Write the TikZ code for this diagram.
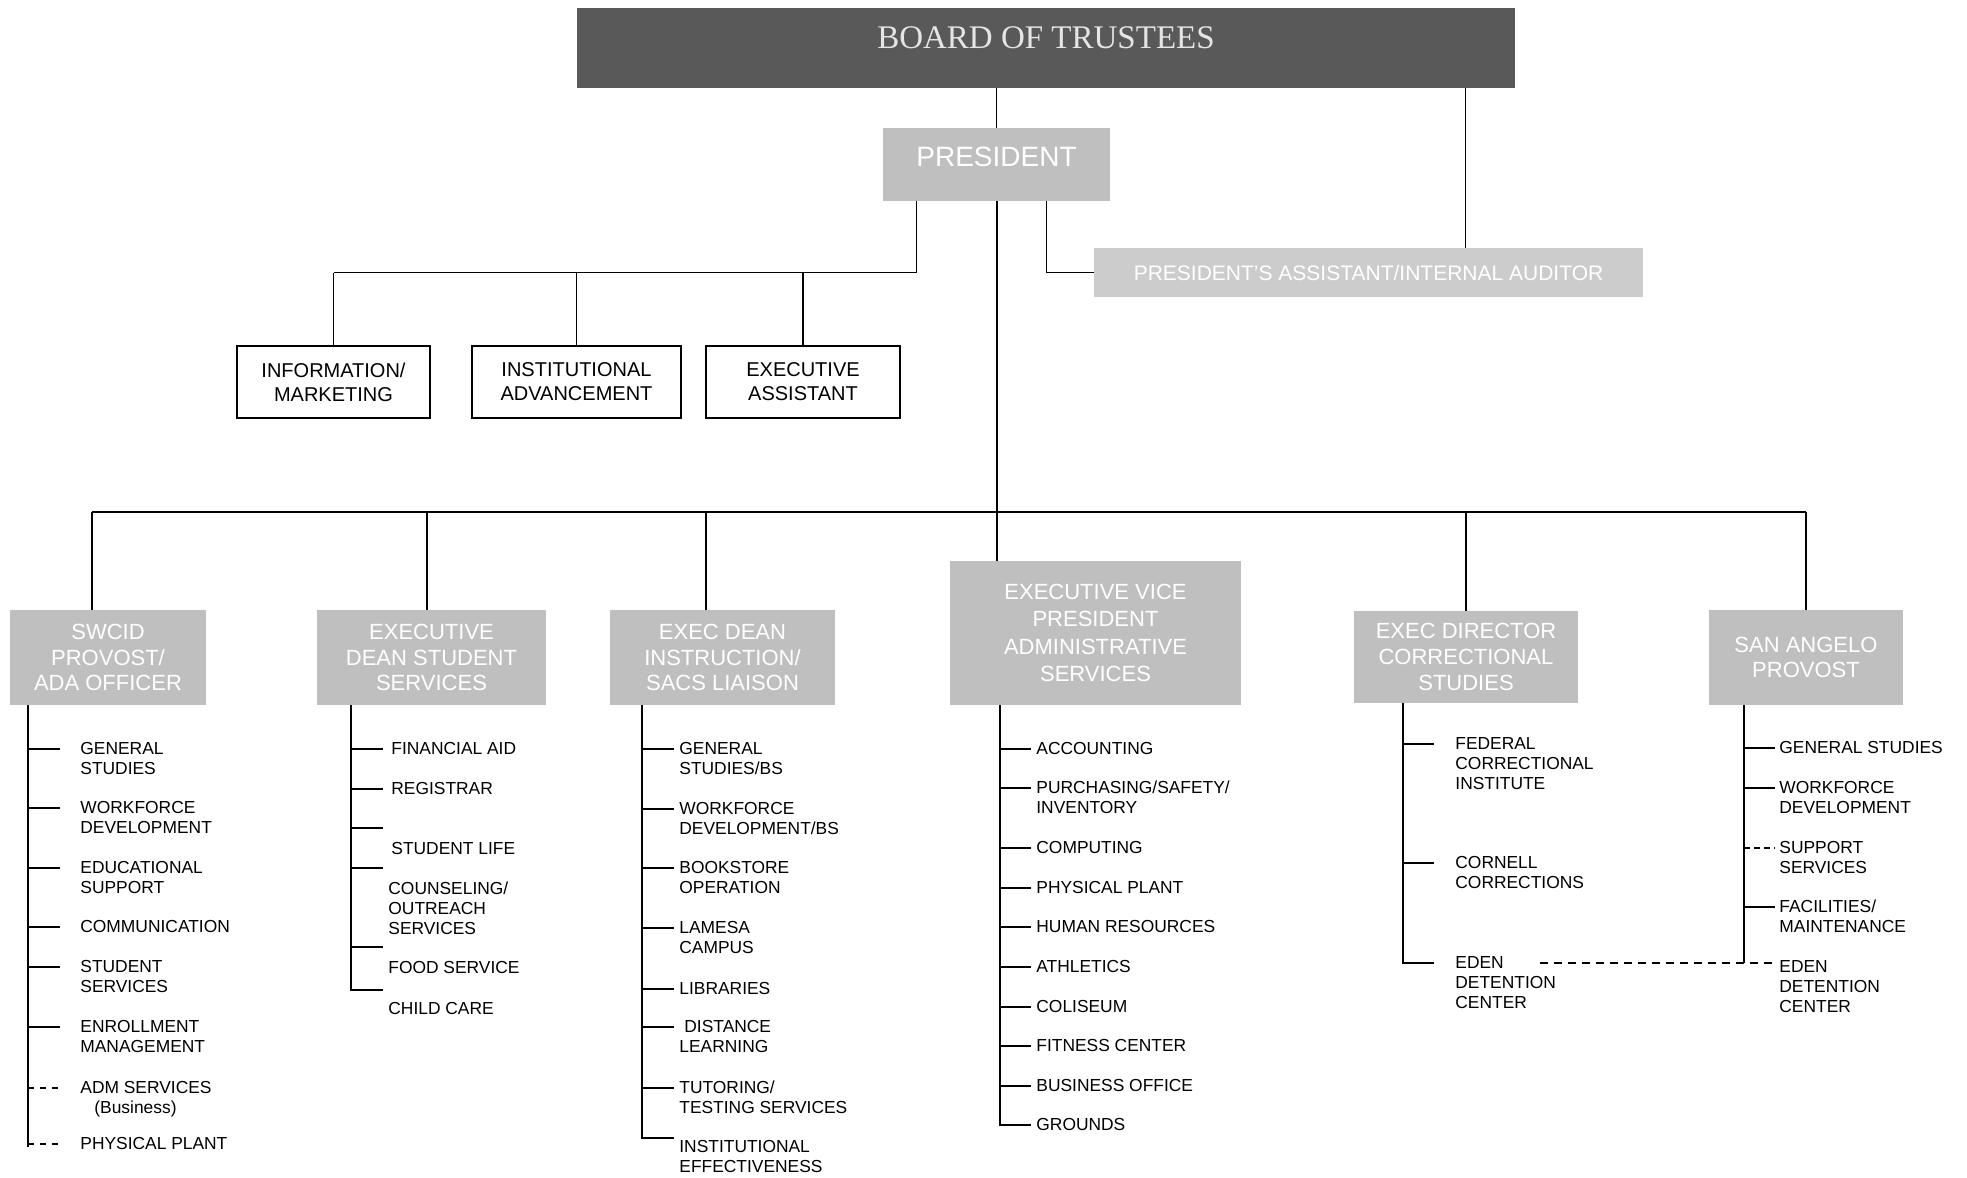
\documentclass[tikz,border=0pt]{standalone}
\usepackage{fontspec}
\setmainfont{Liberation Sans}
\newfontfamily\trusteefont{Liberation Serif}
\newcommand\stack[1]{\begin{tabular}[t]{@{}l@{}}#1\end{tabular}}

\begin{document}
\begin{tikzpicture}[x=0.5pt, y=-0.5pt,
    board/.style={fill=black!65, text=white!90!black, inner sep=0pt,
      font=\trusteefont\fontsize{16.5}{18}\selectfont},
    office/.style={fill=black!25, text=white, align=center, inner sep=0pt,
      font=\fontsize{11}{12.8}\selectfont},
    dept/.style={draw, line width=1pt, align=center, inner sep=0pt,
      font=\fontsize{10}{12}\selectfont},
    entry/.style={anchor=mid west, inner sep=0pt,
      font=\fontsize{8.7}{10}\selectfont},
    link/.style={line width=0.6pt},
    spine/.style={line width=1pt}]
  \useasboundingbox (0,0) rectangle (1967,1178);

  \node[board, minimum width=469pt, minimum height=40pt,
    text height=10pt, text depth=10pt] (B) at (1046,48) {BOARD OF TRUSTEES};
  \node[office, minimum width=113.5pt, minimum height=36.5pt,
    font=\fontsize{14}{16}\selectfont, text height=10pt, text depth=8pt]
    (P) at (996.5,164.5) {PRESIDENT};
  \node[office, minimum width=274.5pt, minimum height=24.5pt,
    font=\fontsize{10.5}{12}\selectfont, fill=black!20]
    (aud) at (1368.5,272.5) {PRESIDENT'S ASSISTANT/INTERNAL AUDITOR};

  \node[dept, minimum width=96.5pt, minimum height=36pt] (info) at (333.5,382) {INFORMATION/\\MARKETING};
  \node[dept, minimum width=104.5pt, minimum height=36pt] (inst) at (576.5,382) {INSTITUTIONAL\\ADVANCEMENT};
  \node[dept, minimum width=97pt, minimum height=36pt] (exa) at (803,382) {EXECUTIVE\\ASSISTANT};

  \node[office, minimum width=98pt, minimum height=47.5pt] (sw) at (108,657.5) {SWCID\\PROVOST/\\ADA OFFICER};
  \node[office, minimum width=114.5pt, minimum height=47.5pt] (edss) at (431.5,657.5) {EXECUTIVE\\DEAN STUDENT\\SERVICES};
  \node[office, minimum width=112.5pt, minimum height=47.5pt] (edi) at (722.5,657.5) {EXEC DEAN\\INSTRUCTION/\\SACS LIAISON};
  \node[office, minimum width=145.5pt, minimum height=72pt,
    font=\fontsize{11}{13.8}\selectfont] (evp) at (1095.5,633) {EXECUTIVE VICE\\PRESIDENT\\ADMINISTRATIVE\\SERVICES};
  \node[office, minimum width=112pt, minimum height=46pt] (edcs) at (1466,657) {EXEC DIRECTOR\\CORRECTIONAL\\STUDIES};
  \node[office, minimum width=97pt, minimum height=47.5pt] (sap) at (1806,657.5) {SAN ANGELO\\PROVOST};

  % board and president
  \draw[link] (P.north |- B.south) -- (P.north);
  \coordinate (ba) at ([xshift=48.5pt]aud.north);
  \draw[link] (ba |- B.south) -- (ba);
  \coordinate (pa) at ([xshift=25pt]P.south);
  \draw[link] (pa) |- (aud.west);
  \coordinate (pl) at ([xshift=-40pt]P.south);
  \draw[link] (pl) |- (info.north |- aud.west);
  \draw[link] (info.north |- aud.west) -- (info.north);
  \draw[link] (inst.north |- aud.west) -- (inst.north);
  \draw[link] (exa.north |- aud.west) -- (exa.north);

  % main bus
  \coordinate (bus) at (0,512);
  \coordinate (bl) at (92,512);
  \coordinate (bs) at (427,512);
  \coordinate (bi) at (706,512);
  \draw[spine] (P.south) -- (P.south |- evp.north);
  \draw[spine] (bl) -- (sap.north |- bus);
  \draw[spine] (bl) -- (bl |- sw.north);
  \draw[spine] (bs) -- (bs |- edss.north);
  \draw[spine] (bi) -- (bi |- edi.north);
  \draw[spine] (edcs.north |- bus) -- (edcs.north);
  \draw[spine] (sap.north |- bus) -- (sap.north);

  % SWCID provost
  \node[entry] (sw1) at (80,749) {\stack{GENERAL\\STUDIES}};
  \node[entry] (sw2) at (80,808) {\stack{WORKFORCE\\DEVELOPMENT}};
  \node[entry] (sw3) at (80,868) {\stack{EDUCATIONAL\\SUPPORT}};
  \node[entry] (sw4) at (80,927) {COMMUNICATION};
  \node[entry] (sw5) at (80,967) {\stack{STUDENT\\SERVICES}};
  \node[entry] (sw6) at (80,1027) {\stack{ENROLLMENT\\MANAGEMENT}};
  \node[entry] (sw7) at (80,1088) {\stack{ADM SERVICES\\\hspace{7pt}(Business)}};
  \node[entry] (sw8) at (80,1144) {PHYSICAL PLANT};
  \coordinate (swt) at (28,705);
  \draw[spine] (swt) -- (28,1147);
  \draw[spine] (swt |- sw1.mid west) -- ++(32,0);
  \draw[spine] (swt |- sw2.mid west) -- ++(32,0);
  \draw[spine] (swt |- sw3.mid west) -- ++(32,0);
  \draw[spine] (swt |- sw4.mid west) -- ++(32,0);
  \draw[spine] (swt |- sw5.mid west) -- ++(32,0);
  \draw[spine] (swt |- sw6.mid west) -- ++(32,0);
  \draw[spine, dash pattern=on 3pt off 3pt] (swt |- sw7.mid west) -- ++(32,0);
  \draw[spine, dash pattern=on 3pt off 3pt] (swt |- sw8.mid west) -- ++(32,0);

  % student services
  \node[entry] (ds1) at (391,749) {FINANCIAL AID};
  \node[entry] (ds2) at (391,789) {REGISTRAR};
  \node[entry] (ds3) at (391,849) {STUDENT LIFE};
  \node[entry] (ds4) at (388,889) {\stack{COUNSELING/\\OUTREACH\\SERVICES}};
  \node[entry] (ds5) at (388,968) {FOOD SERVICE};
  \node[entry] (ds6) at (388,1009) {CHILD CARE};
  \coordinate (dst) at (351,705);
  \draw[spine] (dst) -- (351,991);
  \draw[spine] (dst |- ds1.mid west) -- ++(32,0);
  \draw[spine] (dst |- ds2.mid west) -- ++(32,0);
  \draw[spine] (351,828) -- ++(32,0);
  \draw[spine] (351,868) -- ++(32,0);
  \draw[spine] (351,947) -- ++(32,0);
  \draw[spine] (351,990) -- ++(32,0);

  % instruction
  \node[entry] (di1) at (679,749) {\stack{GENERAL\\STUDIES/BS}};
  \node[entry] (di2) at (679,809) {\stack{WORKFORCE\\DEVELOPMENT/BS}};
  \node[entry] (di3) at (679,868) {\stack{BOOKSTORE\\OPERATION}};
  \node[entry] (di4) at (679,928) {\stack{LAMESA\\CAMPUS}};
  \node[entry] (di5) at (679,989) {LIBRARIES};
  \node[entry] (di6) at (679,1027) {\stack{\hspace{2.5pt}DISTANCE\\LEARNING}};
  \node[entry] (di7) at (679,1088) {\stack{TUTORING/\\TESTING SERVICES}};
  \node[entry] (di8) at (679,1147) {\stack{INSTITUTIONAL\\EFFECTIVENESS}};
  \coordinate (dit) at (642,705);
  \draw[spine] (dit) -- (642,1138) -- ++(32,0);
  \draw[spine] (dit |- di1.mid west) -- ++(32,0);
  \draw[spine] (dit |- di2.mid west) -- ++(32,0);
  \draw[spine] (dit |- di3.mid west) -- ++(32,0);
  \draw[spine] (dit |- di4.mid west) -- ++(32,0);
  \draw[spine] (dit |- di5.mid west) -- ++(32,0);
  \draw[spine] (dit |- di6.mid west) -- ++(32,0);
  \draw[spine] (dit |- di7.mid west) -- ++(32,0);

  % administrative services
  \node[entry] (ev1) at (1036,749) {ACCOUNTING};
  \node[entry] (ev2) at (1036,788) {\stack{PURCHASING/SAFETY/\\INVENTORY}};
  \node[entry] (ev3) at (1036,848) {COMPUTING};
  \node[entry] (ev4) at (1036,888) {PHYSICAL PLANT};
  \node[entry] (ev5) at (1036,927) {HUMAN RESOURCES};
  \node[entry] (ev6) at (1036,967) {ATHLETICS};
  \node[entry] (ev7) at (1036,1007) {COLISEUM};
  \node[entry] (ev8) at (1036,1046) {FITNESS CENTER};
  \node[entry] (ev9) at (1036,1086) {BUSINESS OFFICE};
  \node[entry] (ev10) at (1036,1125) {GROUNDS};
  \coordinate (evt) at (1000,705);
  \draw[spine] (evt) |- ([xshift=-2.5pt]ev10.mid west);
  \draw[spine] (evt |- ev1.mid west) -- ++(31,0);
  \draw[spine] (evt |- ev2.mid west) -- ++(31,0);
  \draw[spine] (evt |- ev3.mid west) -- ++(31,0);
  \draw[spine] (evt |- ev4.mid west) -- ++(31,0);
  \draw[spine] (evt |- ev5.mid west) -- ++(31,0);
  \draw[spine] (evt |- ev6.mid west) -- ++(31,0);
  \draw[spine] (evt |- ev7.mid west) -- ++(31,0);
  \draw[spine] (evt |- ev8.mid west) -- ++(31,0);
  \draw[spine] (evt |- ev9.mid west) -- ++(31,0);

  % correctional studies
  \node[entry] (dc1) at (1455,744) {\stack{FEDERAL\\CORRECTIONAL\\INSTITUTE}};
  \node[entry] (dc2) at (1455,863) {\stack{CORNELL\\CORRECTIONS}};
  \node[entry] (dc3) at (1455,963) {\stack{EDEN\\DETENTION\\CENTER}};
  \coordinate (dct) at (1403,703);
  \draw[spine] (dct) |- ([xshift=-10.5pt]dc3.mid west);
  \draw[spine] (dct |- dc1.mid west) -- ++(31,0);
  \draw[spine] (dct |- dc2.mid west) -- ++(31,0);

  % san angelo
  \node[entry] (sa1) at (1779,748) {GENERAL STUDIES};
  \node[entry] (sa2) at (1779,788) {\stack{WORKFORCE\\DEVELOPMENT}};
  \node[entry] (sa3) at (1779,848) {\stack{SUPPORT\\SERVICES}};
  \node[entry] (sa4) at (1779,907) {\stack{FACILITIES/\\MAINTENANCE}};
  \node[entry] (sa5) at (1779,967) {\stack{EDEN\\DETENTION\\CENTER}};
  \coordinate (sat) at (1744,705);
  \draw[spine] (sat) -- (sat |- dc3.mid west);
  \draw[spine] (sat |- sa1.mid west) -- ++(31,0);
  \draw[spine] (sat |- sa2.mid west) -- ++(31,0);
  \draw[spine, dash pattern=on 3pt off 2pt] (sat |- sa3.mid west) -- ++(31,0);
  \draw[spine] (sat |- sa4.mid west) -- ++(31,0);
  \draw[spine, dash pattern=on 4pt off 3pt] (dc3.mid west) ++(85,0) -- (sat |- dc3.mid west) -- ++(31,0);
\end{tikzpicture}
\end{document}
